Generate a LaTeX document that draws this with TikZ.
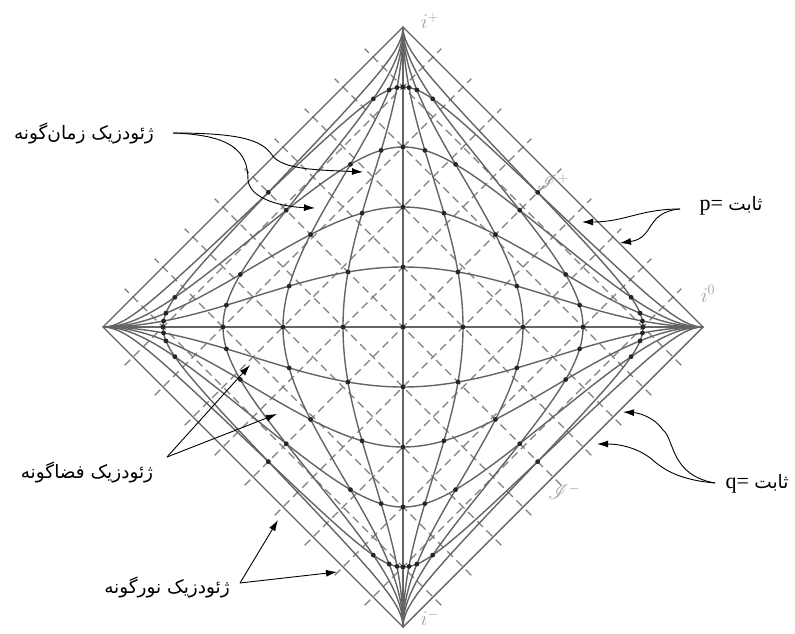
\documentclass[tikz,border=0pt]{standalone}
\usepackage{fontspec}
\usepackage{mathrsfs}
\usetikzlibrary{arrows.meta}
\newfontfamily\fafont[Script=Arabic]{DejaVu Sans}
\newfontfamily\lserif{Liberation Serif}
\TeXXeTstate=1
\definecolor{solidgray}{RGB}{100,100,100}
\definecolor{dashgray}{RGB}{125,125,125}
\definecolor{faintgray}{RGB}{160,160,160}
\tikzset{
  curve/.style={draw=solidgray, line width=1.4pt},
  nullline/.style={draw=dashgray, line width=1.3pt, dash pattern=on 8pt off 5pt},
  event/.style={fill=black!85},
  callout/.style={draw=black, line width=0.9pt, -{Latex[length=11pt,width=7pt]}},
  falabel/.style={font=\fontsize{18.5}{20}\selectfont\fafont, inner sep=0pt},
  conlabel/.style={font=\fontsize{22}{24}\selectfont\lserif, inner sep=0pt},
  infty/.style={text=faintgray, font=\fontsize{21}{23}\selectfont, inner sep=0pt}
}
\begin{document}
\begin{tikzpicture}[x=1pt,y=-1pt]
\useasboundingbox (0,0) rectangle (795,634);
\coordinate (ip) at (403,27);
\coordinate (im) at (403,627);
\coordinate (iL) at (103,327);
\coordinate (iR) at (703,327);

% null lines (dashed)
\foreach \m in {-4,...,4}{
  \draw[nullline] ({403+(5/3)*(-95-18*\m)},{327-(5/3)*(18*\m-95)}) -- ({403+(5/3)*(95-18*\m)},{327-(5/3)*(18*\m+95)});
  \draw[nullline] ({403+(5/3)*(18*\m+95)},{327-(5/3)*(-95+18*\m)}) -- ({403+(5/3)*(18*\m-95)},{327-(5/3)*(95+18*\m)});
}

% boundary
\draw[curve] (iL) -- (ip) -- (iR) -- (im) -- cycle;

% t = const curves
\foreach \k in {-4,...,4}{
  \pgfmathsetmacro\tc{tan(18*\k)}
  \draw[curve] (iL) -- plot[variable=\w, domain=-89.5:89.5, samples=121]
    ({403+(5/3)*(atan(\tc+tan(\w))-atan(\tc-tan(\w)))},
     {327-(5/3)*(atan(\tc+tan(\w))+atan(\tc-tan(\w)))}) -- (iR);
}
% x = const curves
\foreach \n in {-4,...,4}{
  \pgfmathsetmacro\xc{tan(18*\n)}
  \draw[curve] (im) -- plot[variable=\w, domain=-89.5:89.5, samples=121]
    ({403+(5/3)*(atan(tan(\w)+\xc)-atan(tan(\w)-\xc))},
     {327-(5/3)*(atan(tan(\w)+\xc)+atan(tan(\w)-\xc))}) -- (ip);
}
% events
\foreach \k in {-4,...,4}{
  \foreach \n in {-4,...,4}{
    \pgfmathsetmacro\uu{atan(tan(18*\k)-tan(18*\n))}
    \pgfmathsetmacro\vv{atan(tan(18*\k)+tan(18*\n))}
    \fill[event] ({403+(5/3)*(\vv-\uu)},{327-(5/3)*(\uu+\vv)}) circle (2.4);
  }
}

% infinity labels
\node[infty] (iplus) at (430,21) {$i^+$};
\node[infty] (iminus) at (430,618) {$i^-$};
\node[infty] (izero) at (708,294) {$i^0$};
\node[infty] (scrip) at (553,182) {$\mathscr{I}^+$};
\node[infty] (scrim) at (564,492) {$\mathscr{I}^-$};

% timelike label
\node[falabel] (tlike) at (84,133) {\beginR ژئودزیک زمان‌گونه\endR};
\coordinate (tlS) at (173,133);
\coordinate (tlA) at (363,172);
\coordinate (tlB) at (315,208);
\draw[callout] (tlS) .. controls (240,133) and (262,140) .. (272,155) .. controls (282,170) and (320,170) .. (tlA);
\draw[callout] (tlS) .. controls (230,135) and (248,150) .. (248,180) .. controls (250,200) and (285,207) .. (tlB);

% spacelike label
\node[falabel] (slike) at (87,472) {\beginR ژئودزیک فضاگونه\endR};
\coordinate (slS) at (167,457);
\coordinate (slA) at (250,365);
\coordinate (slB) at (277,414);
\draw[callout] (slS) -- (slA);
\draw[callout] (slS) -- (slB);

% null label
\node[falabel] (nlike) at (167,587) {\beginR ژئودزیک نورگونه\endR};
\coordinate (nlS) at (240,583);
\coordinate (nlA) at (278,520);
\coordinate (nlB) at (337,572);
\draw[callout] (nlS) -- (nlA);
\draw[callout] (nlS) -- (nlB);

% p = const
\node[conlabel] (plab) at (731,206) {p= {\fafont\fontsize{18.5}{20}\selectfont\beginR ثابت\endR}};
\coordinate (pS) at (680,209);
\coordinate (pA) at (582,222);
\coordinate (pB) at (620,243);
\draw[callout] (pS) .. controls (640,209) and (625,222) .. (pA);
\draw[callout] (pS) .. controls (645,212) and (655,238) .. (pB);

% q = const
\node[conlabel] (qlab) at (757,484) {q= {\fafont\fontsize{18.5}{20}\selectfont\beginR ثابت\endR}};
\coordinate (qS) at (715,483);
\coordinate (qA) at (623,412);
\coordinate (qB) at (597,444);
\draw[callout] (qS) .. controls (670,475) and (675,440) .. (663,430) .. controls (655,418) and (640,413) .. (qA);
\draw[callout] (qS) .. controls (680,480) and (665,470) .. (655,462) .. controls (640,448) and (620,444) .. (qB);
\end{tikzpicture}
\end{document}
